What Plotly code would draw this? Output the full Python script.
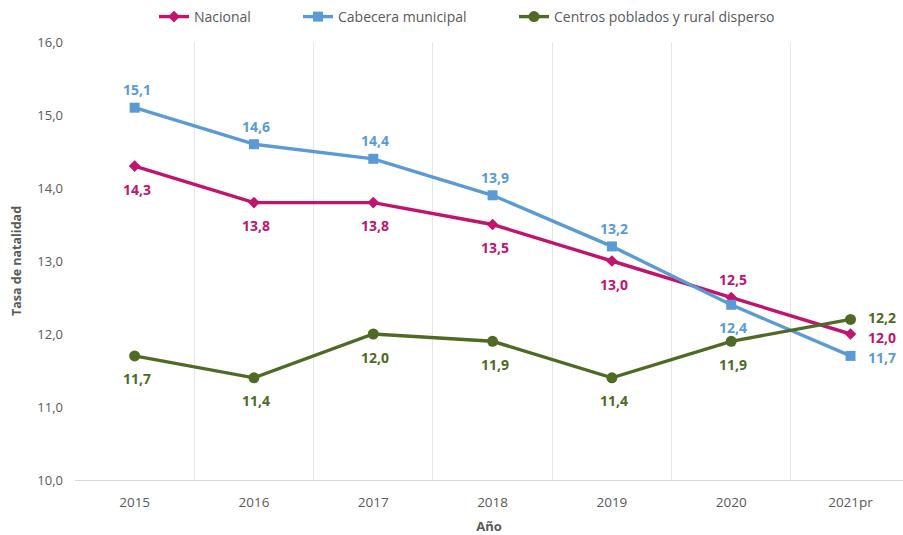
import plotly.graph_objects as go

# Tasa de natalidad por área, 2015-2021pr
years = ["2015", "2016", "2017", "2018", "2019", "2020", "2021pr"]
nacional = [14.3, 13.8, 13.8, 13.5, 13.0, 12.5, 12.0]
cabecera = [15.1, 14.6, 14.4, 13.9, 13.2, 12.4, 11.7]
centros = [11.7, 11.4, 12.0, 11.9, 11.4, 11.9, 12.2]

# label placement per point: "a" above, "b" below, "r" right
pos_nacional = ["b", "b", "b", "b", "b", "a", "r"]
pos_cabecera = ["a", "a", "a", "a", "a", "b", "r"]
pos_centros = ["b", "b", "b", "b", "b", "b", "r"]

# name, values, placements, colour, marker, marker size, legend id, legend x, nudge for right labels
series = [
    ("Nacional", nacional, pos_nacional, "#C2136D", "diamond", 9, "legend", 154, -3),
    ("Cabecera municipal", cabecera, pos_cabecera, "#5B9BD5", "square", 10, "legend2", 298, -2),
    ("Centros poblados y rural disperso", centros, pos_centros, "#4E6A24", "circle", 11, "legend3", 514, 2),
]

W, H = 903, 535
xi = list(range(len(years)))
fig = go.Figure()
annotations = []
legends = {}
for name, vals, pos, color, symbol, msize, leg, legx, rshift in series:
    fig.add_trace(go.Scatter(
        x=xi, y=vals, name=name, mode="lines+markers",
        line=dict(color=color, width=3.4),
        marker=dict(symbol=symbol, size=msize, color=color),
        cliponaxis=False, legend=leg,
    ))
    legends[leg] = dict(
        orientation="h", xref="container", yref="container",
        x=legx / W, xanchor="left", y=1 - 17 / H, yanchor="middle",
        font=dict(size=14, color="#595959"), bgcolor="rgba(0,0,0,0)",
    )
    for x, v, p in zip(xi, vals, pos):
        txt = f"{v:.1f}".replace(".", ",")
        a = dict(x=x, y=v, text=f"<b>{txt}</b>", showarrow=False,
                 font=dict(color=color, size=14, family="Open Sans"),
                 xanchor="center", yanchor="middle", xshift=2)
        if p == "a":
            a["yshift"] = 18
        elif p == "b":
            a["yshift"] = -23
        else:
            a["xanchor"] = "left"
            a["xshift"] = 15
            a["yshift"] = rshift
        annotations.append(a)

fig.update_layout(
    width=W, height=H,
    margin=dict(l=75, r=0, t=42, b=55),
    paper_bgcolor="white", plot_bgcolor="white",
    separators=",.",
    font=dict(family="Open Sans", color="#595959", size=12),
    annotations=annotations,
    showlegend=True,
    **legends,
)
fig.update_xaxes(
    range=[-0.5, 6.44],
    tickmode="array", tickvals=xi, ticktext=years,
    showgrid=False, zeroline=False,
    showline=True, linecolor="#D9D9D9", linewidth=1,
    ticks="", tickfont=dict(size=13.5, color="#595959"), ticklabelstandoff=10,
    minor=dict(tickvals=[-0.5, 0.5, 1.5, 2.5, 3.5, 4.5, 5.5], showgrid=True,
               gridcolor="#E6E6E6", gridwidth=1, ticks=""),
    title=dict(text="<b>Año</b>", font=dict(size=13, color="#595959"), standoff=12),
)
fig.update_yaxes(
    range=[10, 16], dtick=1, tickformat=".1f",
    showgrid=False, zeroline=False, showline=False,
    ticks="", tickfont=dict(size=13, color="#595959"), ticklabelstandoff=11,
    title=dict(text="<b>Tasa de natalidad</b>", font=dict(size=12.5, color="#595959"), standoff=12),
)

fig.write_html("out.html")
